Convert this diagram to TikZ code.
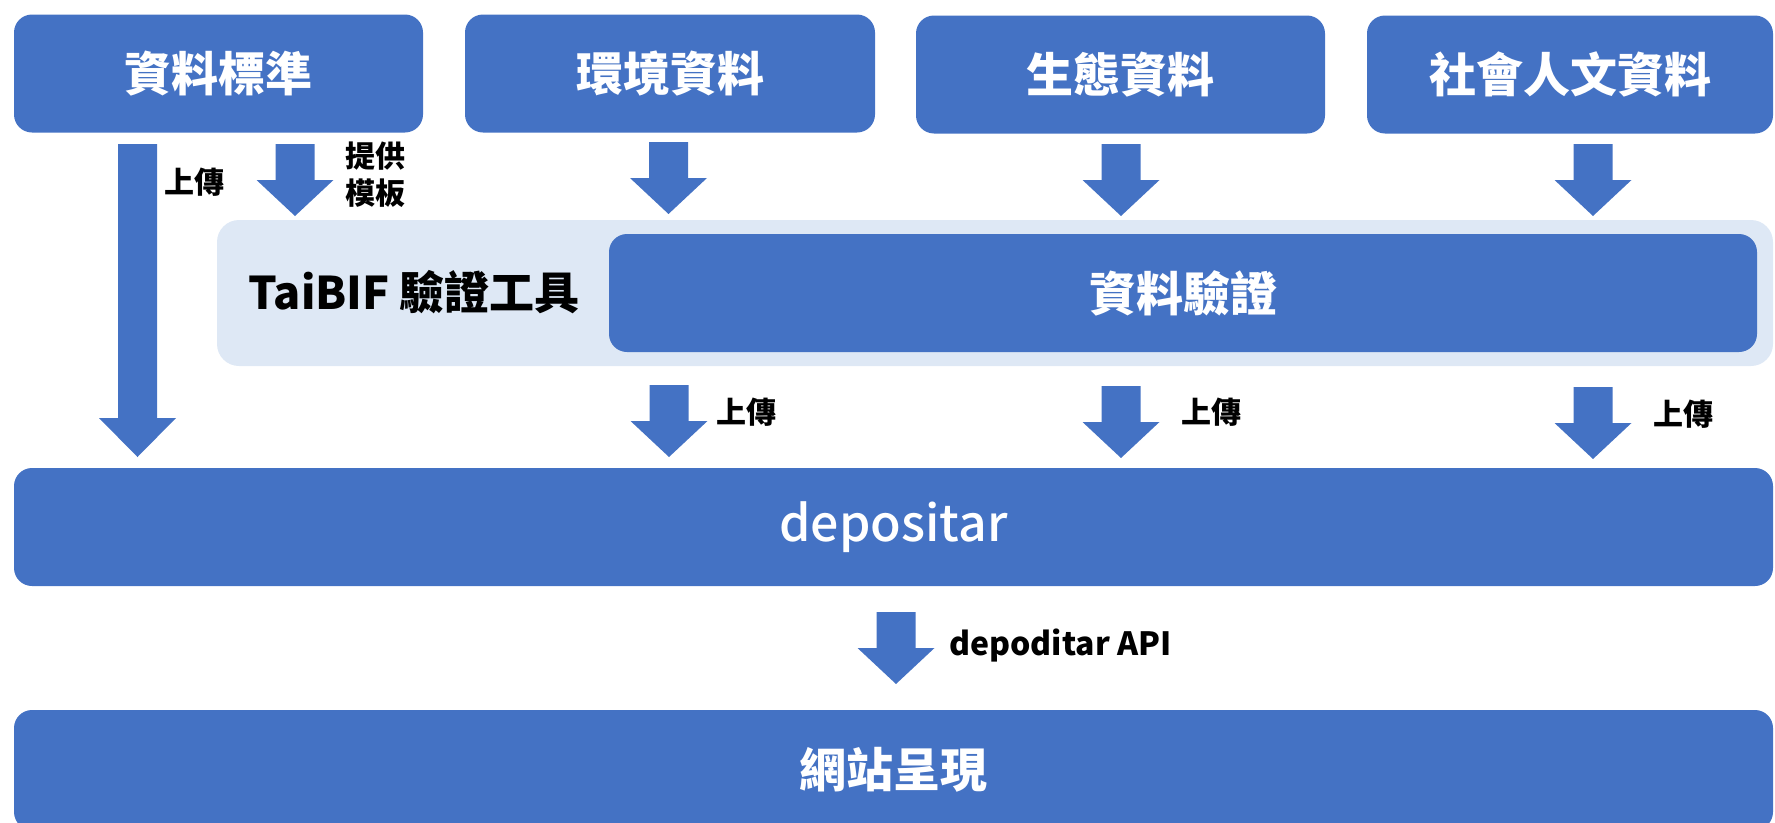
\documentclass[tikz,border=0pt]{standalone}
\usepackage{fontspec}
\setmainfont{Noto Sans CJK TC}
\newfontfamily\medfont{Noto Sans CJK TC Medium}
\definecolor{mainblue}{HTML}{4472C4}
\definecolor{lightbg}{HTML}{DEE8F5}
\newcommand{\blkarrow}[4]{%
  \fill[mainblue] (#1-19.5,#2) -- (#1+19.5,#2) -- (#1+19.5,#3) -- (#1+38.5,#3)
    -- (#1,#4) -- (#1-38.5,#3) -- (#1-19.5,#3) -- cycle;}
\begin{document}
\begin{tikzpicture}[x=1pt,y=-1pt,
  bluebox/.style={fill=mainblue, rounded corners=18pt, text=white, inner sep=0pt,
    font=\fontsize{47}{52}\selectfont\bfseries},
  lbl/.style={text=black, inner sep=0pt, font=\fontsize{30}{37}\selectfont\bfseries, align=center}]
\useasboundingbox (0,0) rectangle (1775,822);
% top boxes
\node[bluebox, minimum width=409pt, minimum height=118pt] (std) at (218.5,73.5) {資料標準};
\node[bluebox, minimum width=410pt, minimum height=118pt] (env) at (670,73.5) {環境資料};
\node[bluebox, minimum width=409pt, minimum height=118pt] (eco) at (1120.5,74.5) {生態資料};
\node[bluebox, minimum width=406pt, minimum height=118pt] (soc) at (1570,74.5) {社會人文資料};
% validation tool
\node[fill=lightbg, rounded corners=22pt, minimum width=1556pt, minimum height=146pt, inner sep=0pt] (tool) at (995,293) {};
\node[inner sep=0pt, font=\fontsize{45}{50}\selectfont\bfseries] (toollbl) at (414,292) {TaiBIF 驗證工具};
\node[bluebox, minimum width=1148pt, minimum height=118pt] (valid) at (1183,293) {資料驗證};
% depositar
\node[bluebox, minimum width=1759pt, minimum height=118pt, font=\fontsize{50}{54}\medfont] (dep) at (893.5,527) {depositar};
% website
\begin{scope}
\clip (0,0) rectangle (1775,822);
\node[bluebox, minimum width=1759pt, minimum height=120pt] (web) at (893.5,770) {網站呈現};
\end{scope}
% arrows
\blkarrow{137.5}{144}{418}{457}
\blkarrow{295}{144}{180}{216}
\blkarrow{668.5}{142}{178}{214}
\blkarrow{1121}{144}{180}{216}
\blkarrow{1593}{144}{180}{216}
\blkarrow{669}{385}{421}{457}
\blkarrow{1121}{386}{422}{458}
\blkarrow{1593}{387}{423}{459}
\blkarrow{896}{612}{648}{684}
% labels
\node[lbl] (l1) at (194,182) {上傳};
\node[lbl] (l2) at (375,175) {提供\\模板};
\node[lbl] (l3) at (746,412) {上傳};
\node[lbl] (l4) at (1211,412) {上傳};
\node[lbl] (l5) at (1683,414) {上傳};
\node[lbl, anchor=base west, font=\fontsize{32}{36}\selectfont\bfseries] (l6) at (949,655) {depoditar API};
\end{tikzpicture}
\end{document}
